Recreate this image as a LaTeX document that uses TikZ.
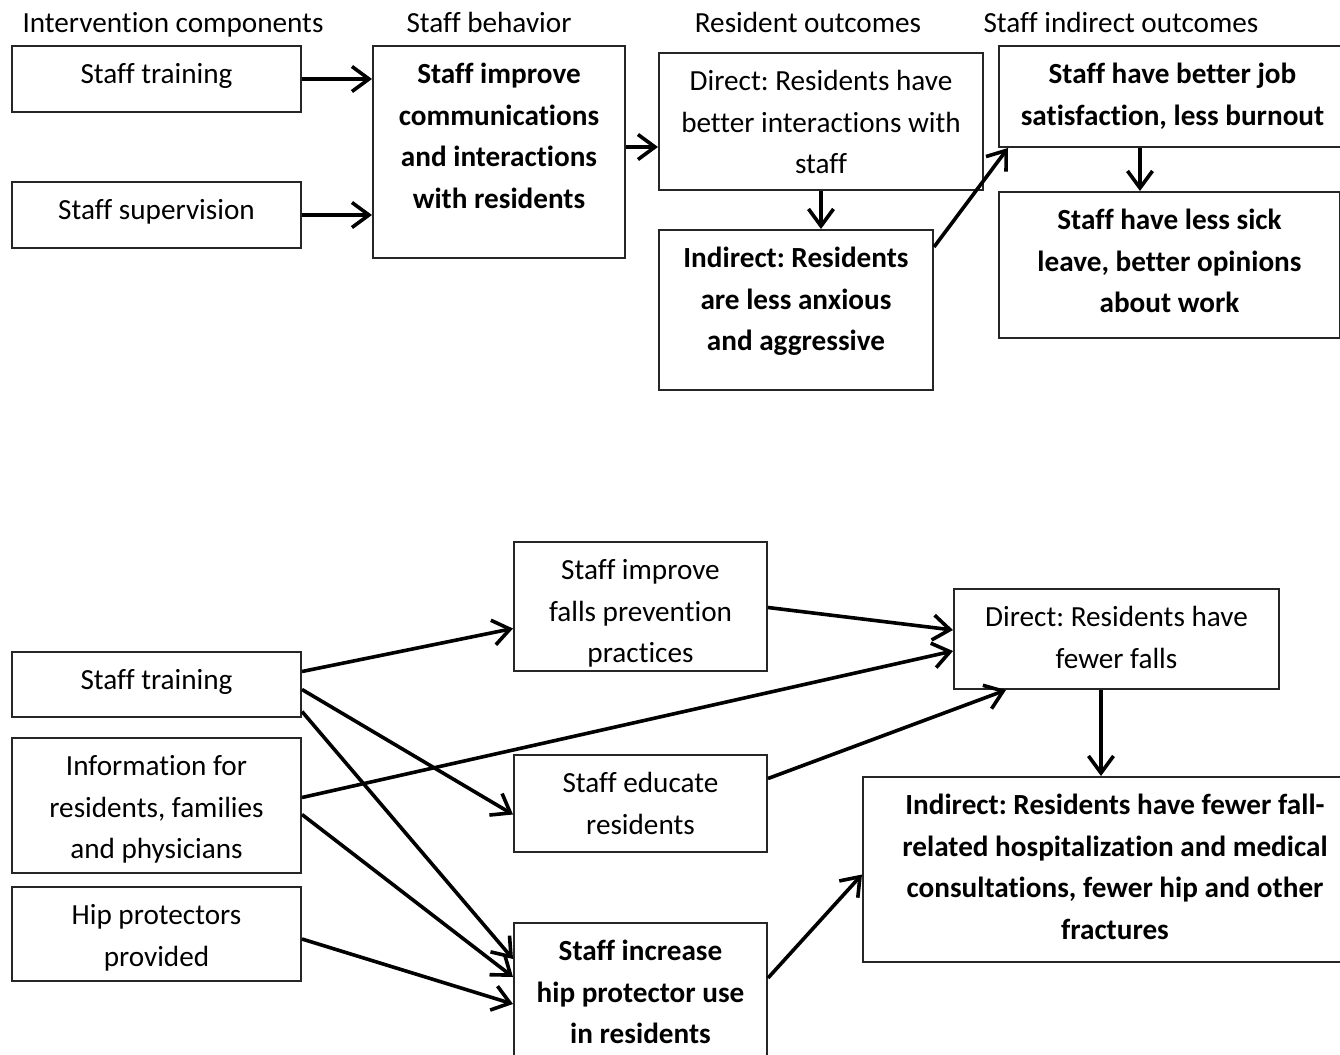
\documentclass[tikz,border=0pt]{standalone}
\usepackage{fontspec}
\setmainfont{Carlito}[Ligatures=NoCommon]
\usetikzlibrary{arrows.meta,calc}
\frenchspacing

\tikzset{every picture/.style={line width=0.75pt}}
\tikzset{
  every node/.style={font=\fontsize{14.6}{20.75}\selectfont},
  heading/.style={inner sep=0pt, anchor=base},
  cell/.style={draw=black!85, line width=1pt, inner sep=0pt, anchor=north west, align=flush center, text height=18.75pt},
  boldcell/.style={cell, font=\fontsize{14.6}{20.75}\selectfont\bfseries},
  arr/.style={line width=1.8pt, -{Straight Barb[length=8.5pt,width=12.5pt]}},
}

\begin{document}
\begin{tikzpicture}[x=0.5pt,y=0.5pt,yscale=-1,xscale=1]
\useasboundingbox (0,0) rectangle (1340,1055);

% Text Node
\node [heading] (hdInt) at (173,32) {Intervention components};
% Text Node
\node [heading] (hdBeh) at (489,32) {Staff behavior};
% Text Node
\node [heading] (hdRes) at (808,32) {Resident outcomes};
% Text Node
\node [heading] (hdInd) at (1121,32) {Staff indirect outcomes};

%Shape: Rectangle
\node [cell, text width=144.5pt, text depth=14.25pt] (trainA) at (11,45) {Staff training};
%Shape: Rectangle
\node [cell, text width=144.5pt, text depth=14.25pt] (superv) at (11,181) {Staff supervision};
%Shape: Rectangle
\node [boldcell, text width=126pt, text depth=87.25pt] (comm) at (372,45) {Staff improve\\communications\\and interactions\\with residents};
%Shape: Rectangle
\node [cell, text width=162pt, text depth=49.75pt] (direct) at (658,52) {Direct: Residents have\\better interactions with\\staff};
%Shape: Rectangle
\node [boldcell, text width=137pt, text depth=61.25pt] (dind) at (658,229) {Indirect: Residents\\are less anxious\\and aggressive};
%Shape: Rectangle
\node [boldcell, text width=173.5pt, text depth=31.75pt] (jobsat) at (998,45) {Staff have better job\\satisfaction, less burnout};
%Shape: Rectangle
\node [boldcell, text width=170.5pt, text depth=54.25pt] (sick) at (998,191) {Staff have less sick\\leave, better opinions\\about work};

%Straight Lines
\draw [arr] (trainA.east) -- (trainA.east -| comm.west);
\draw [arr] (superv.east) -- (superv.east -| comm.west);
\draw [arr] ($(comm.east)+(0,-5)$) -- ($(comm.east -| direct.west)+(0,-5)$);
\draw [arr] (direct.south) -- (direct.south |- dind.north);
\draw [arr] ($(dind.north east)+(0,18)$) -- ($(jobsat.south west)+(10,0)$);
\draw [arr] ($(jobsat.south west)+(142,0)$) -- ($(sick.north west)+(142,0)$);

%Shape: Rectangle
\node [cell, text width=144.5pt, text depth=13.75pt] (trainB) at (11,651) {Staff training};
%Shape: Rectangle
\node [cell, text width=144.5pt, text depth=48.75pt] (info) at (11,737) {Information for\\residents, families\\and physicians};
%Shape: Rectangle
\node [cell, text width=144.5pt, text depth=28.25pt] (hipprov) at (11,886) {Hip protectors\\provided};
%Shape: Rectangle
\node [cell, text width=126.5pt, text depth=45.75pt] (falls) at (513,541) {Staff improve\\falls prevention\\practices};
%Shape: Rectangle
\node [cell, text width=126.5pt, text depth=29.75pt] (educ) at (513,754) {Staff educate\\residents};
%Shape: Rectangle
\node [boldcell, text width=126.5pt, text depth=51.25pt] (hipuse) at (513,922) {Staff increase\\hip protector use\\in residents};
%Shape: Rectangle
\node [cell, text width=162.5pt, text depth=31.25pt] (fewer) at (953,588) {Direct: Residents have\\fewer falls};
%Shape: Rectangle
\node [boldcell, text width=252pt, text depth=73.75pt] (indir) at (862,776) {Indirect: Residents have fewer fall-\\related hospitalization and medical\\consultations, fewer hip and other\\fractures};

%Straight Lines
\draw [arr] ($(trainB.east)+(0,-13)$) -- ($(falls.west)+(0,22)$);
\draw [arr] ($(trainB.east)+(0,5)$) -- ($(educ.west)+(0,11)$);
\draw [arr] ($(trainB.east)+(0,27)$) -- ($(hipuse.west)+(0,-34)$);
\draw [arr] ($(info.east)+(0,-8)$) -- ($(fewer.west)+(0,12)$);
\draw [arr] ($(info.east)+(0,9)$) -- ($(hipuse.west)+(0,-16)$);
\draw [arr] ($(hipprov.east)+(0,5)$) -- ($(hipuse.west)+(0,11)$);
\draw [arr] ($(falls.east)+(0,1)$) -- ($(fewer.west)+(0,-9)$);
\draw [arr] ($(educ.east)+(0,-25)$) -- ($(fewer.south west)+(53,0)$);
\draw [arr] ($(fewer.south west)+(148,0)$) -- ($(indir.north west)+(239,0)$);
\draw [arr] ($(hipuse.east)+(0,-15)$) -- ($(indir.west)+(0,5)$);

\end{tikzpicture}
\end{document}
